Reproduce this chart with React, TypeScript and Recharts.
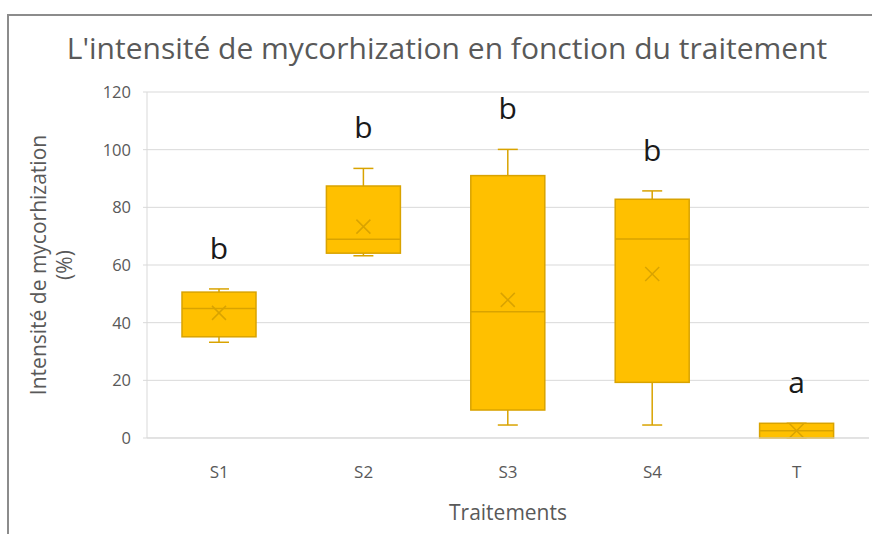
import { Bar, CartesianGrid, ComposedChart, Label, LabelList, XAxis, YAxis } from 'recharts';

const treatments = ['S1', 'S2', 'S3', 'S4', 'T'];
const minValues = [33.2, 63.2, 4.5, 4.5, 0];
const q1Values = [35.1, 64.1, 9.7, 19.3, 0];
const medianValues = [44.9, 68.9, 43.8, 69.0, 2.5];
const q3Values = [50.6, 87.4, 91.0, 82.8, 5.1];
const maxValues = [51.7, 93.5, 100.1, 85.7, 5.1];
const meanValues = [43.4, 73.3, 47.9, 56.9, 2.5];
const groupLetters = ['b', 'b', 'b', 'b', 'a'];
const yTicks = [0, 20, 40, 60, 80, 100, 120];

const data = treatments.map((name, i) => ({
  name,
  min: minValues[i],
  q1: q1Values[i],
  median: medianValues[i],
  q3: q3Values[i],
  max: maxValues[i],
  mean: meanValues[i],
  letter: groupLetters[i],
}));

const FONT = '"Open Sans", "Noto Sans", sans-serif';
const FILL = '#FFC000';
const EDGE = '#D9A300';

function BoxShape(props: any) {
  const { x, y, width, height, payload } = props;
  const top = Math.min(y, y + height);
  const h = Math.abs(height);
  const span = payload.max - payload.min;
  const toY = (v: number) => (span > 0 ? top + h - ((v - payload.min) / span) * h : top + h);
  const cx = x + width / 2;
  const cap = 10;
  const m = 7;
  const my = toY(payload.mean);
  return (
    <g>
      <line x1={cx} x2={cx} y1={toY(payload.max)} y2={toY(payload.q3)} stroke={EDGE} strokeWidth={1.5} />
      <line x1={cx} x2={cx} y1={toY(payload.q1)} y2={toY(payload.min)} stroke={EDGE} strokeWidth={1.5} />
      <line x1={cx - cap} x2={cx + cap} y1={toY(payload.max)} y2={toY(payload.max)} stroke={EDGE} strokeWidth={1.5} />
      <line x1={cx - cap} x2={cx + cap} y1={toY(payload.min)} y2={toY(payload.min)} stroke={EDGE} strokeWidth={1.5} />
      <rect x={x} y={toY(payload.q3)} width={width} height={toY(payload.q1) - toY(payload.q3)} fill={FILL} stroke={EDGE} strokeWidth={1.5} />
      <line x1={x} x2={x + width} y1={toY(payload.median)} y2={toY(payload.median)} stroke={EDGE} strokeWidth={1.5} />
      <line x1={cx - m} x2={cx + m} y1={my - m} y2={my + m} stroke={EDGE} strokeWidth={1.5} />
      <line x1={cx - m} x2={cx + m} y1={my + m} y2={my - m} stroke={EDGE} strokeWidth={1.5} />
    </g>
  );
}

function YTitle(props: any) {
  const { viewBox } = props;
  const cy = viewBox.y + viewBox.height / 2;
  return (
    <g fill="#595959" fontFamily={FONT} fontSize={21} textAnchor="middle">
      <text transform={`translate(46, ${cy}) rotate(-90)`}>Intensité de mycorhization</text>
      <text transform={`translate(72, ${cy}) rotate(-90)`}>(%)</text>
    </g>
  );
}

export default function App() {
  return (
    <div style={{ position: 'absolute', top: 0, left: 0, width: 872, height: 534, overflow: 'hidden', background: '#fff' }}>
      <div
        style={{
          position: 'absolute',
          left: 7,
          top: 14,
          width: 900,
          height: 600,
          border: '2px solid #8c8c8c',
          boxSizing: 'border-box',
        }}
      />
      <div
        style={{
          position: 'absolute',
          top: 26,
          left: 0,
          width: 894,
          textAlign: 'center',
          fontFamily: FONT,
          fontSize: 30,
          lineHeight: '44px',
          color: '#595959',
          whiteSpace: 'nowrap',
        }}
      >
        L'intensité de mycorhization en fonction du traitement
      </div>
      <div style={{ position: 'absolute', top: 0, left: 0 }}>
        <ComposedChart width={872} height={534} data={data} margin={{ top: 92, right: 3, bottom: 56, left: 0 }}>
          <CartesianGrid vertical={false} stroke="#d9d9d9" />
          <XAxis
            dataKey="name"
            axisLine={{ stroke: '#d9d9d9' }}
            tickLine={false}
            tickMargin={22}
            height={40}
            tick={{ fill: '#595959', fontSize: 17, fontFamily: FONT }}
          >
            <Label value="Traitements" position="bottom" offset={27} fill="#595959" fontSize={21} fontFamily={FONT} />
          </XAxis>
          <YAxis
            width={147}
            domain={[0, 120]}
            ticks={yTicks}
            axisLine={{ stroke: '#d9d9d9' }}
            tickLine={{ stroke: '#d9d9d9' }}
            tickSize={4}
            tickMargin={12}
            tick={{ fill: '#595959', fontSize: 16.5, fontFamily: FONT }}
          >
            <Label content={<YTitle />} />
          </YAxis>
          <Bar dataKey={(d: any) => [d.min, d.max]} barSize={74} shape={<BoxShape />} isAnimationActive={false}>
            <LabelList dataKey="letter" position="top" offset={30} fill="#1a1a1a" fontSize={30} fontFamily={FONT} />
          </Bar>
        </ComposedChart>
      </div>
    </div>
  );
}
